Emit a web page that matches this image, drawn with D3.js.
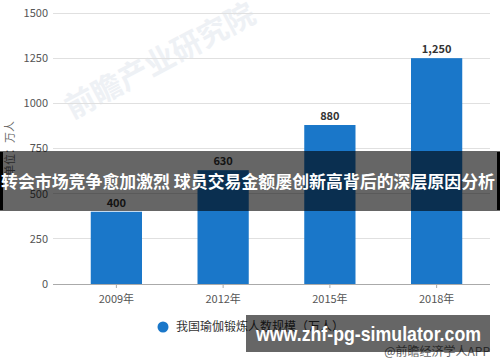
<!DOCTYPE html>
<html><head><meta charset="utf-8">
<script src="https://cdn.jsdelivr.net/npm/d3@7"></script>
<style>body{margin:0;background:#fff}svg{display:block;font-family:"Microsoft YaHei","Noto Sans CJK SC",sans-serif}</style>
</head><body>
<svg id="c" width="500" height="362"></svg>
<script>
const categories = ["2009年","2012年","2015年","2018年"];
const values = [400, 630, 880, 1250];
const yTicks = [0, 250, 500, 750, 1000, 1250, 1500];
const seriesName = "我国瑜伽锻炼人数规模（万人）";
const yTitle = "单位：万人";
const bannerText = "转会市场竞争愈加激烈 球员交易金额屡创新高背后的深层原因分析";
const siteText = "www.zhf-pg-simulator.com";
const sourceText = "@前瞻经济学人APP";

const svg = d3.select("#c");
const x = d3.scaleBand().domain(categories).range([63, 490]).paddingInner(0.52).paddingOuter(0.26);
const y = d3.scaleLinear().domain([0, 1500]).range([284, 13]);

// watermark (very faint)
svg.append("text").attr("x", 165).attr("y", 70).attr("transform", "rotate(-28,165,70)")
  .attr("text-anchor", "middle").attr("font-size", 30).attr("font-weight", "bold")
  .attr("fill", "#eef1f5").text("前瞻产业研究院");

// gridlines
svg.append("g").selectAll("line").data(yTicks).join("line")
  .attr("x1", 53).attr("x2", 490).attr("y1", d => y(d)).attr("y2", d => y(d))
  .attr("stroke", d => d === 0 ? "#aaa" : "#e0e0e0").attr("stroke-width", 1)
  .attr("shape-rendering", "crispEdges");

// y labels
svg.append("g").selectAll("text").data(yTicks).join("text")
  .attr("x", 48).attr("y", d => y(d)).attr("dy", "0.35em").attr("text-anchor", "end")
  .attr("font-size", 11).attr("fill", "#555").text(d => d);

// y title
svg.append("text").attr("transform", `translate(14,${(y(0)+y(1500))/2}) rotate(-90)`)
  .attr("text-anchor", "middle").attr("font-size", 11).attr("fill", "#666").text(yTitle);

// bars
svg.append("g").selectAll("rect").data(values).join("rect")
  .attr("x", (d, i) => x(categories[i])).attr("width", x.bandwidth())
  .attr("y", d => y(d)).attr("height", d => y(0) - y(d)).attr("fill", "#1a77c9");

// bar labels
svg.append("g").selectAll("text").data(values).join("text")
  .attr("x", (d, i) => x(categories[i]) + x.bandwidth() / 2).attr("y", d => y(d) - 5)
  .attr("text-anchor", "middle").attr("font-size", 11).attr("font-weight", "bold")
  .attr("fill", "#333").text(d => d3.format(",")(d));

// x axis
const xa = svg.append("g").attr("transform", `translate(0,${y(0)})`)
  .call(d3.axisBottom(x).tickSize(4).tickSizeOuter(0));
xa.select(".domain").remove();
xa.selectAll("line").attr("stroke", "#aaa");
xa.selectAll("text").attr("font-size", 11).attr("fill", "#555").attr("dy", "1.1em")
  .attr("font-family", '"Microsoft YaHei","Noto Sans CJK SC",sans-serif');

// legend
svg.append("circle").attr("cx", 163).attr("cy", 327).attr("r", 5.5).attr("fill", "#1a77c9");
svg.append("text").attr("x", 176).attr("y", 327).attr("dy", "0.35em").attr("font-size", 12)
  .attr("fill", "#333").text(seriesName);

// source
svg.append("text").attr("x", 490).attr("y", 356).attr("text-anchor", "end").attr("font-size", 12)
  .attr("fill", "#666").text(sourceText);

// top banner overlay
svg.append("rect").attr("x", 0).attr("y", 151).attr("width", 500).attr("height", 60).attr("fill", "rgba(0,0,0,0.6)");
svg.append("rect").attr("x", 0).attr("y", 152).attr("width", 3).attr("height", 58).attr("fill", "#000");
svg.append("rect").attr("x", 497).attr("y", 152).attr("width", 3).attr("height", 58).attr("fill", "#000");
svg.append("text").attr("x", 248).attr("y", 182).attr("dy", "0.35em").attr("text-anchor", "middle")
  .attr("font-size", 17).attr("font-weight", "bold").attr("fill", "#fff")
  .attr("textLength", 494).attr("lengthAdjust", "spacingAndGlyphs").text(bannerText);

// bottom banner overlay
svg.append("rect").attr("x", 246).attr("y", 315).attr("width", 244).attr("height", 37).attr("fill", "rgba(0,0,0,0.6)");
svg.append("text").attr("x", 256).attr("y", 334).attr("dy", "0.35em")
  .attr("font-family", '"Liberation Sans",Arial,sans-serif')
  .attr("font-size", 21).attr("font-weight", "bold").attr("fill", "#fff")
  .attr("textLength", 225).attr("lengthAdjust", "spacingAndGlyphs").text(siteText);
</script>
</body></html>
